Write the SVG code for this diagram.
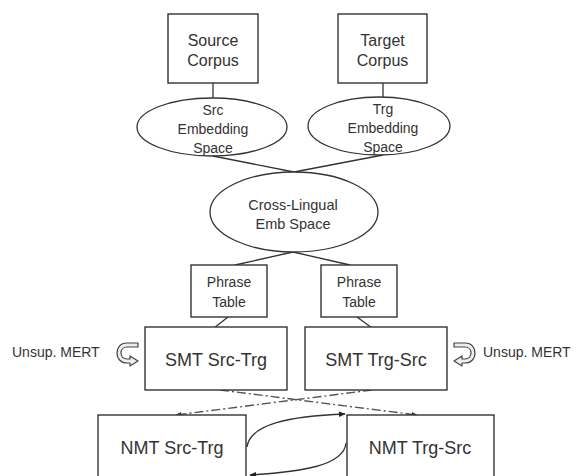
<svg xmlns="http://www.w3.org/2000/svg" width="576" height="476" viewBox="0 0 576 476">
<style>
  .box{fill:#fff;stroke:#333;stroke-width:1.4}
  .ell{fill:#fff;stroke:#333;stroke-width:1.3}
  .t{font-family:"Liberation Sans",Arial,sans-serif;fill:#333;text-anchor:middle}
  .s14{font-size:14px}
  .s16{font-size:16px}
  .s18{font-size:18px}
  .ln{fill:none;stroke:#333;stroke-width:1.3}
  .dd{fill:none;stroke:#555;stroke-width:1.4;stroke-dasharray:9,3,2,3}
  .ic{fill:#eee;stroke:#444;stroke-width:1.2;stroke-linejoin:round}
</style>
<defs>
  <marker id="ah" viewBox="0 0 10 10" refX="9" refY="5" markerWidth="7" markerHeight="7" markerUnits="userSpaceOnUse" orient="auto">
    <path d="M0,1 L10,5 L0,9 Z" fill="#222"/>
  </marker>
  <marker id="ahs" viewBox="0 0 10 10" refX="9" refY="5" markerWidth="6" markerHeight="6" markerUnits="userSpaceOnUse" orient="auto">
    <path d="M0,1 L10,5 L0,9 Z" fill="#333"/>
  </marker>
  <path id="uturn" d="M21,0 L10,0 C3,0 0,5 0,10 C0,16 4,20 10,20 L13,20 L13,23 L21,18 L13,13 L13,16 L10,16 C6,16 4,13 4,10 C4,7 6,4 10,4 L21,4 Z"/>
</defs>

<g id="connectors">
  <line class="ln" x1="213" y1="83" x2="213" y2="98"/>
  <line class="ln" x1="383" y1="83" x2="383" y2="97"/>
  <line class="ln" x1="213" y1="156" x2="294" y2="172"/>
  <line class="ln" x1="383" y1="155" x2="294" y2="172"/>
  <line class="ln" x1="293" y1="252" x2="235" y2="265"/>
  <line class="ln" x1="293" y1="252" x2="350" y2="265"/>
  <line class="ln" x1="228" y1="317" x2="200" y2="339" marker-end="url(#ah)"/>
  <line class="ln" x1="357" y1="317" x2="387" y2="339" marker-end="url(#ah)"/>
  <line class="dd" x1="220" y1="390" x2="417" y2="415" marker-end="url(#ahs)"/>
  <line class="dd" x1="372" y1="390" x2="176" y2="415" marker-end="url(#ahs)"/>
  <path class="ln" d="M247,447 C250,424 290,416 345,414" marker-end="url(#ah)"/>
  <path class="ln" d="M346,443 C344,466 300,472 250,475" marker-end="url(#ah)"/>
</g>

<g id="source-corpus">
  <rect class="box" x="168" y="14" width="90" height="69"/>
  <text class="t s16" x="213" y="46">Source</text>
  <text class="t s16" x="213" y="66">Corpus</text>
</g>
<g id="target-corpus">
  <rect class="box" x="338" y="14" width="89" height="69"/>
  <text class="t s16" x="382.5" y="46">Target</text>
  <text class="t s16" x="382.5" y="66">Corpus</text>
</g>
<g id="src-embedding">
  <ellipse class="ell" cx="212" cy="127" rx="75" ry="29"/>
  <text class="t s14" x="213" y="115">Src</text>
  <text class="t s14" x="213" y="134">Embedding</text>
  <text class="t s14" x="213" y="153">Space</text>
</g>
<g id="trg-embedding">
  <ellipse class="ell" cx="379" cy="126" rx="71" ry="29"/>
  <text class="t s14" x="383" y="114">Trg</text>
  <text class="t s14" x="383" y="133">Embedding</text>
  <text class="t s14" x="383" y="152">Space</text>
</g>
<g id="cross-lingual">
  <ellipse class="ell" cx="294" cy="212" rx="84" ry="40"/>
  <text class="t" style="font-size:14.5px" x="293" y="210">Cross-Lingual</text>
  <text class="t" style="font-size:14.5px" x="293" y="229">Emb Space</text>
</g>
<g id="phrase-table-left">
  <rect class="box" x="191" y="265" width="76" height="52"/>
  <text class="t s14" x="229" y="287">Phrase</text>
  <text class="t s14" x="229" y="307">Table</text>
</g>
<g id="phrase-table-right">
  <rect class="box" x="321" y="265" width="76" height="52"/>
  <text class="t s14" x="359" y="287">Phrase</text>
  <text class="t s14" x="359" y="307">Table</text>
</g>
<g id="smt-src-trg">
  <rect class="box" x="145" y="327" width="142" height="63"/>
  <text class="t s18" x="216" y="366">SMT Src-Trg</text>
</g>
<g id="smt-trg-src">
  <rect class="box" x="305" y="327" width="142" height="63"/>
  <text class="t s18" x="376" y="366">SMT Trg-Src</text>
</g>
<g id="mert-left">
  <use href="#uturn" class="ic" transform="translate(117,343)"/>
  <text class="t s14" style="text-anchor:start" x="12" y="357">Unsup. MERT</text>
</g>
<g id="mert-right">
  <use href="#uturn" class="ic" transform="translate(475,343) scale(-1,1)"/>
  <text class="t s14" style="text-anchor:start" x="483" y="357">Unsup. MERT</text>
</g>
<g id="nmt-src-trg">
  <rect class="box" x="98" y="415" width="148" height="80"/>
  <text class="t s18" x="172" y="454">NMT Src-Trg</text>
</g>
<g id="nmt-trg-src">
  <rect class="box" x="347" y="415" width="147" height="80"/>
  <text class="t s18" x="420" y="454">NMT Trg-Src</text>
</g>
</svg>
